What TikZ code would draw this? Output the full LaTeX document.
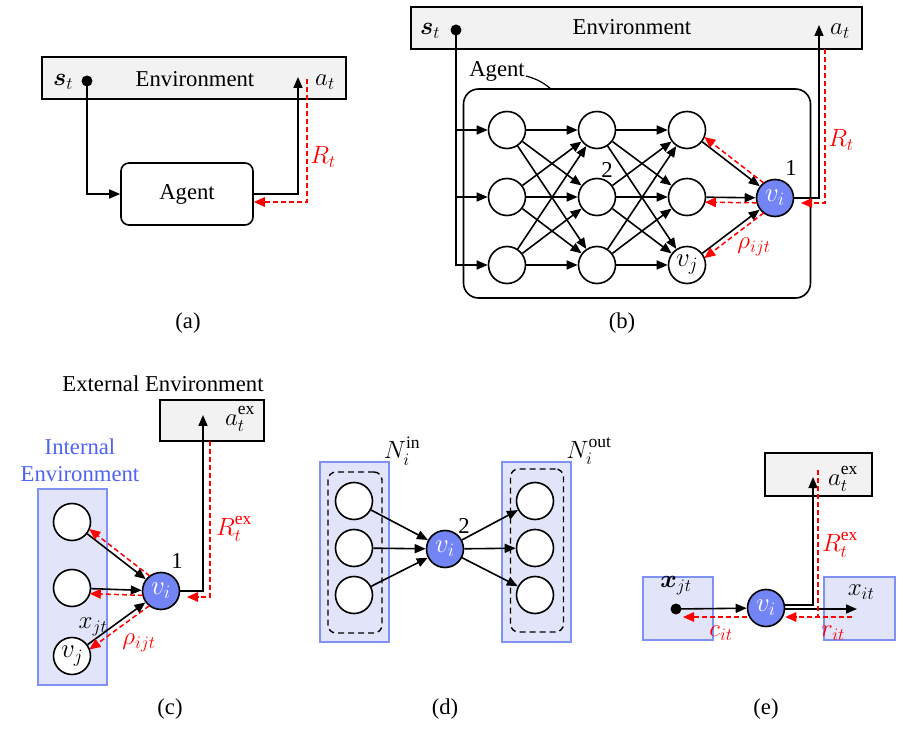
\RequirePackage{fix-cm}
\documentclass[tikz,border=0pt]{standalone}
\usepackage{fontspec}
\setmainfont{Liberation Serif}
\usepackage{bm}
\usetikzlibrary{arrows.meta,calc}
\definecolor{vblue}{RGB}{115,132,245}
\definecolor{boxfill}{RGB}{226,228,250}
\definecolor{boxline}{RGB}{128,145,245}
\definecolor{envgray}{RGB}{242,242,242}
\definecolor{ietext}{RGB}{80,100,242}
\newcommand\rback[4]{\draw[rarr,shorten <=18pt,shorten >=18pt] ($(#1)!5pt!#3:(#2)$) -- ($(#2)!5pt!#4:(#1)$);}
\newcommand\upx[1]{^{\raisebox{1.5pt}{$\scriptstyle\mathrm{#1}$}}}
\begin{document}
\begin{tikzpicture}[x=1pt,y=-1pt,
  every node/.style={font=\fontsize{22.7}{27}\selectfont, inner sep=0pt},
  ml/.style={font=\fontsize{25}{30}\selectfont},
  cfont/.style={font=\fontsize{27}{32}\selectfont},
  arr/.style={line width=1.6pt, -{Triangle[length=11pt,width=9pt]}},
  rarr/.style={red, line width=1.5pt, dash pattern=on 5pt off 3pt, -{Triangle[length=11pt,width=9.5pt]}},
  rdash/.style={red, line width=1.5pt, dash pattern=on 5pt off 3pt},
  nn/.style={circle, draw, line width=1.6pt, fill=white, minimum size=37pt, cfont},
  vnode/.style={nn, fill=vblue, text=white},
  envbox/.style={draw, line width=1.6pt, fill=envgray},
  bbox/.style={draw=boxline, line width=1.3pt, fill=boxfill},
  dbox/.style={draw, line width=1.4pt, dash pattern=on 6pt off 4pt, rounded corners=8pt},
  dotn/.style={circle, fill=black, minimum size=11pt},
  rl/.style={ml, text=red}]
\useasboundingbox (0,0) rectangle (903,735);

% ---------------- (a)
\node[envbox, minimum width=304pt, minimum height=42pt] (envA) at (194,78) {};
\node (envAt) at (195,79) {Environment};
\node[ml] (stA) at (63,82) {$\bm{s}_t$};
\node[ml] (atA) at (325,82) {$a_t$};
\node[draw, line width=1.6pt, rounded corners=8pt, minimum width=132pt, minimum height=62pt] (agentA) at (187,194) {Agent};
\coordinate (upA) at (298,77);
\coordinate (rA) at (307,79);
\node[dotn] (dotA) at (87,81) {};
\draw[arr] (dotA.center) |- (agentA.west);
\draw[arr] (agentA.east) -| (upA);
\draw[rarr] (rA) |- ($(agentA.east)+(0,8)$);
\node[rl] (RA) at (323,157) {$R_t$};
\node (capA) at (188,323) {(a)};

% ---------------- (b)
\node[envbox, minimum width=451pt, minimum height=42pt] (envB) at (636.5,28) {};
\node (envBt) at (632,27) {Environment};
\node[ml] (stB) at (430,31) {$\bm{s}_t$};
\node[ml] (atB) at (840,31) {$a_t$};
\node[draw, line width=1.6pt, rounded corners=15pt, minimum width=347pt, minimum height=209pt] (agentB) at (637,193.5) {};
\node (agentlblB) at (497,71) {Agent};
\coordinate (aglA) at (526,76);
\coordinate (aglB) at (551,89);
\draw[line width=1.2pt] (aglA) to[bend left=12] (aglB);
\foreach \r/\y in {1/130,2/197,3/265}{
  \node[nn] (b1\r) at (507,\y) {};
  \node[nn] (b2\r) at (597,\y) {};
}
\node[nn] (b31) at (687,130) {};
\node[nn] (b32) at (687,197) {};
\node[nn] (b33) at (687,265) {$v_j$};
\node[vnode] (viB) at (775,198) {$v_i$};
\foreach \r in {1,2,3}{\foreach \s in {1,2,3}{
  \draw[arr] (b1\r) -- (b2\s);
  \draw[arr] (b2\r) -- (b3\s);}}
\foreach \r in {1,2,3}{\draw[arr] (b3\r) -- (viB);}
\node[dotn] (dotB) at (456,30) {};
\draw[arr] (dotB.center) |- (b13);
\draw[arr] (dotB |- b11) -- (b11);
\draw[arr] (dotB |- b12) -- (b12);
\coordinate (upB) at (819,25);
\draw[arr] (viB) -| (upB);
\coordinate (rB) at (825,49);
\coordinate (rBe) at (801,203);
\draw[rarr] (rB) |- (rBe);
\rback{viB}{b31}{-90}{90}
\rback{viB}{b32}{90}{-90}
\rback{viB}{b33}{90}{-90}
\node (twoB) at (607,170) {2};
\node (oneB) at (791,168) {1};
\node[rl] (rhoB) at (754,247) {$\rho_{ijt}$};
\node[rl] (RB) at (841,140) {$R_t$};
\node (capB) at (622,323) {(b)};

% ---------------- (c)
\node (extC) at (163,384) {External Environment};
\node[envbox, minimum width=104pt, minimum height=41pt] (envC) at (212,420.5) {};
\node[ml] (atC) at (240,419) {$a_t\upx{ex}$};
\node[text=ietext, align=center] (ieC) at (80,460) {Internal\\Environment};
\node[bbox, minimum width=69pt, minimum height=196pt] (ieboxC) at (72.5,587) {};
\node[nn] (c1) at (72,522) {};
\node[nn] (c2) at (72,588) {};
\node[nn] (c3) at (72,656) {$v_j$};
\node[vnode] (viC) at (161,591) {$v_i$};
\foreach \n in {c1,c2,c3}{\draw[arr] (\n) -- (viC);}
\rback{viC}{c1}{-90}{90}
\rback{viC}{c2}{90}{-90}
\rback{viC}{c3}{90}{-90}
\coordinate (upC) at (203,415);
\draw[arr] (viC) -| (upC);
\coordinate (rC) at (210,441);
\coordinate (rCe) at (187,597);
\draw[rarr] (rC) |- (rCe);
\node (oneC) at (177,561) {1};
\node[ml] (xjC) at (93,627) {$x_{jt}$};
\node[rl] (rhoC) at (139,643) {$\rho_{ijt}$};
\node[rl] (RC) at (234,529) {$R_t\upx{ex}$};
\node (capC) at (170,709) {(c)};

% ---------------- (d)
\node[bbox, minimum width=69pt, minimum height=180pt] (inD) at (354.5,552) {};
\node[dbox, minimum width=54pt, minimum height=161pt] (inDd) at (355,552.5) {};
\node[bbox, minimum width=69pt, minimum height=180pt] (outD) at (536.5,552) {};
\node[dbox, minimum width=53pt, minimum height=163pt] (outDd) at (537,550.5) {};
\node[nn] (d1) at (354,501) {};
\node[nn] (d2) at (354,548) {};
\node[nn] (d3) at (354,595) {};
\node[nn] (o1) at (535,501) {};
\node[nn] (o2) at (535,548) {};
\node[nn] (o3) at (535,595) {};
\node[vnode] (viD) at (445,549) {$v_i$};
\foreach \k in {1,2,3}{
  \draw[arr] (d\k) -- (viD);
  \draw[arr] (viD) -- (o\k);}
\node[ml] (NinD) at (402,451) {$N_i\upx{in}$};
\node[ml] (NoutD) at (589,451) {$N_i\upx{out}$};
\node (twoD) at (464,526) {2};
\node (capD) at (445,709) {(d)};

% ---------------- (e)
\node[envbox, minimum width=107pt, minimum height=43pt] (envE) at (818.5,474.5) {};
\node[ml] (atE) at (843,479) {$a_t\upx{ex}$};
\node[bbox, minimum width=70pt, minimum height=63pt] (xjE) at (678,608.5) {};
\node[bbox, minimum width=71pt, minimum height=63pt] (xiE) at (859.5,608.5) {};
\node[ml] (xjlE) at (676,586) {$\bm{x}_{jt}$};
\node[ml] (xilE) at (861,592) {$x_{it}$};
\node[dotn] (dotE) at (676,609) {};
\node[vnode] (viE) at (766,608) {$v_i$};
\draw[arr] (dotE.center) -- (viE);
\coordinate (upE) at (813,477);
\draw[arr] ($(viE.east)+(-1,-3)$) -| (upE);
\coordinate (xiEe) at (857,609);
\draw[arr] ($(viE.east)+(0,1)$) -- (xiEe);
\coordinate (rEt) at (818,470);
\coordinate (rEb) at (818,617);
\draw[rdash] (rEt) -- (rEb);
\coordinate (rEs) at (852,617);
\draw[rarr] (rEs) -- ($(viE.east)+(0,9)$);
\coordinate (cEe) at (683,617);
\draw[rarr] ($(viE.west)+(0,9)$) -- (cEe);
\node[rl] (RE) at (840,545) {$R_t\upx{ex}$};
\node[rl] (cE) at (721,633) {$c_{it}$};
\node[rl] (rE) at (833,633) {$r_{it}$};
\node (capE) at (766,709) {(e)};
\end{tikzpicture}
\end{document}
